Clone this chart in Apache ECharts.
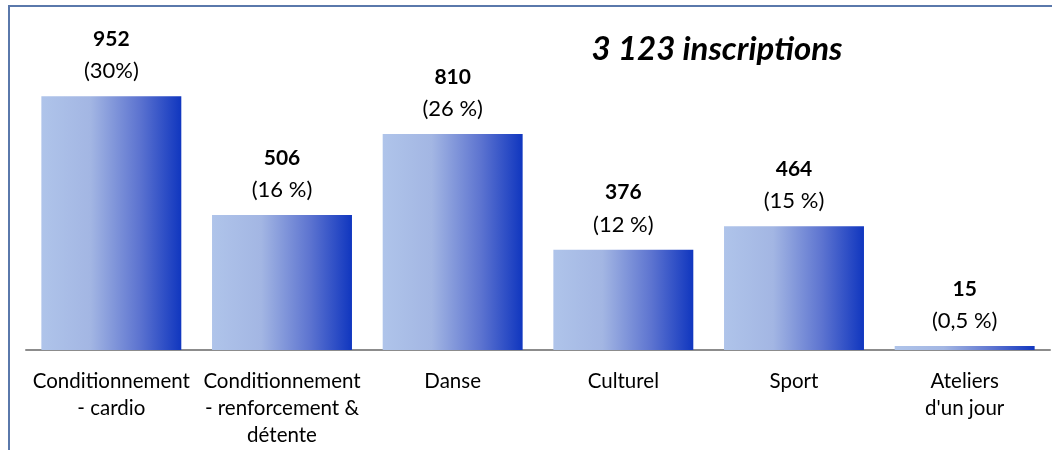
<!DOCTYPE html>
<html>
<head>
<meta charset="utf-8">
<script src="https://cdn.jsdelivr.net/npm/echarts@6/dist/echarts.min.js"></script>
<style>
  html, body { margin: 0; padding: 0; background: #fff; }
  #bar-chart { width: 1052px; height: 450px; }
</style>
</head>
<body>
<div id="bar-chart"></div>
<script>
const CATEGORIES = [
  "Conditionnement\n- cardio",
  "Conditionnement\n- renforcement &\ndétente",
  "Danse",
  "Culturel",
  "Sport",
  "Ateliers\nd'un jour"
];
const COUNTS = [952, 506, 810, 376, 464, 15];
const PERCENTS = ["(30%)", "(16 %)", "(26 %)", "(12 %)", "(15 %)", "(0,5 %)"];
const TITLE = "3 123 inscriptions";

const FONT = "Lato, 'Open Sans', sans-serif";
const barChart = echarts.init(document.getElementById("bar-chart"));

const barColor = new echarts.graphic.LinearGradient(0, 0, 1, 0, [
  { offset: 0, color: "#afc4ea" },
  { offset: 0.35, color: "#a3b6e3" },
  { offset: 0.7, color: "#5d74d0" },
  { offset: 1, color: "#1036bf" }
]);

barChart.setOption({
  animation: false,
  title: {
    text: TITLE,
    left: 712,
    top: 28,
    textAlign: "center",
    textStyle: {
      fontFamily: FONT,
      fontSize: 33,
      fontWeight: "bold",
      fontStyle: "italic",
      color: "#000"
    }
  },
  graphic: [{
    type: "polyline",
    shape: { points: [[9, 450], [9, 6], [1052, 6]] },
    style: { stroke: "#5a78ab", lineWidth: 2, fill: null }
  }],
  grid: { left: 26, right: 2, top: 30, bottom: 100 },
  xAxis: {
    type: "category",
    data: CATEGORIES,
    axisLine: { lineStyle: { color: "#8c8c8c", width: 2 } },
    axisTick: { show: false },
    axisLabel: {
      interval: 0,
      margin: 18,
      fontFamily: FONT,
      fontSize: 20.5,
      lineHeight: 27,
      color: "#000"
    }
  },
  yAxis: {
    type: "value",
    min: 0,
    max: 1200,
    show: false,
    splitLine: { show: false }
  },
  series: [{
    type: "bar",
    data: COUNTS,
    barCategoryGap: "18%",
    itemStyle: { color: barColor },
    label: {
      show: true,
      position: "top",
      distance: 9,
      formatter: p => `{n|${p.value}}\n{p|${PERCENTS[p.dataIndex]}}`,
      rich: {
        n: { fontFamily: FONT, fontSize: 21, fontWeight: "bold", color: "#000", lineHeight: 32 },
        p: { fontFamily: FONT, fontSize: 22, color: "#000", lineHeight: 32 }
      }
    }
  }]
});
</script>
</body>
</html>
